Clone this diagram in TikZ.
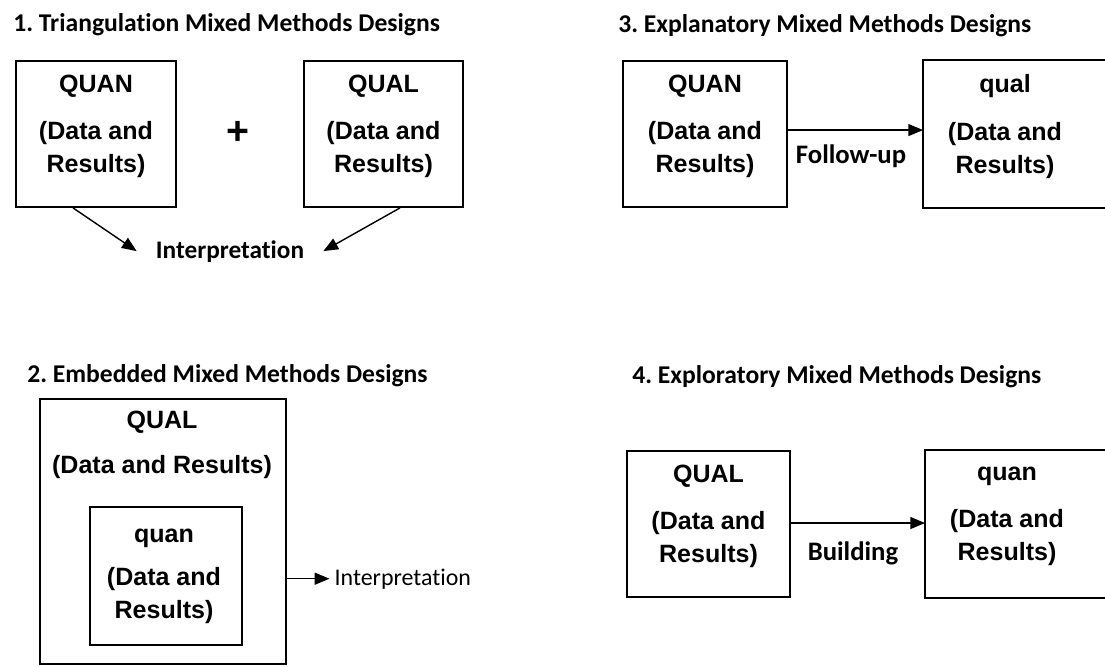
\documentclass[tikz,border=0pt]{standalone}
\usepackage{fontspec}
\setmainfont{Carlito}[Ligatures=NoCommon]
\newfontfamily\boxfont{Liberation Sans}
\usetikzlibrary{arrows.meta}
\frenchspacing
\tikzset{
  design box/.style={
    draw,
    line width=1.3pt,
    inner sep=0pt,
    minimum width=#1,
  },
  box text/.style={
    align=center,
    font=\boxfont\bfseries\fontsize{17.8}{23.5}\selectfont,
  },
  title/.style={
    anchor=base west,
    inner sep=0pt,
    font=\bfseries\fontsize{18.2}{21}\selectfont,
  },
  step label/.style={
    anchor=base,
    font=\bfseries\fontsize{19}{22}\selectfont,
  },
  link/.style={
    -{Triangle[length=10.5pt,width=8.5pt]},
    line width=1pt,
  },
}

\begin{document}
\begin{tikzpicture}[x=0.025cm, y=-0.025cm]
  \useasboundingbox (0,0) rectangle (1105,666);
  \coordinate (edge) at (1105,0);

  % 1. triangulation
  \node[title] (t1) at (13,31) {1. Triangulation Mixed Methods Designs};
  \node[design box=4cm, minimum height=3.65cm] (quanA) at (96,134) {};
  \node[box text] at (96,126.5) {QUAN\\[10pt](Data and\\Results)};
  \node[design box=3.975cm, minimum height=3.65cm] (qualA) at (383.5,134) {};
  \node[box text] at (383.5,126.5) {QUAL\\[10pt](Data and\\Results)};
  \node[font=\boxfont\bfseries\fontsize{28}{30}\selectfont] (plus) at (238,133) {+};
  \node[step label, inner xsep=13.5pt, font=\bfseries\fontsize{18}{21}\selectfont]
    (interpA) at (230,258) {Interpretation};
  \draw[link] ([xshift=-16.3pt]quanA.south) -- (interpA.west);
  \draw[link] ([xshift=11.7pt]qualA.south) -- (interpA.east);

  % 2. embedded
  \node[title] (t2) at (27,382) {2. Embedded Mixed Methods Designs};
  \node[design box=6.15cm, minimum height=6.625cm] (qualE) at (163,531.5) {};
  \node[box text] at (162,445) {QUAL\\[8.5pt](Data and Results)};
  \node[design box=3.8cm, minimum height=3.45cm] (quanE) at (166,576) {};
  \node[box text] at (164,576) {quan\\[7pt](Data and\\Results)};
  \node[anchor=base west, inner xsep=3.5pt, font=\fontsize{17}{20}\selectfont]
    (interpE) at (329.5,585) {Interpretation};
  \draw[link] (interpE.west -| qualE.east) -- (interpE.west);

  % 3. explanatory
  \node[title] (t3) at (618,32) {3. Explanatory Mixed Methods Designs};
  \node[design box=4.1cm, minimum height=3.65cm] (quanX) at (705,134) {};
  \node[box text] at (705,126.5) {QUAN\\[10pt](Data and\\Results)};
  \node[design box=4.05cm, minimum height=3.65cm, draw=none] (qualX) at (1005,134) {};
  \draw[line width=1.3pt] (qualX.north west -| edge) -- (qualX.north west)
    -- (qualX.south west) -- (qualX.south west -| edge);
  \node[box text] at (1005,126.5) {qual\\[10pt](Data and\\Results)};
  \draw[link] ([yshift=2.8pt]quanX.east) -- ([yshift=2.8pt]qualX.west);
  \node[step label] (follow) at (851,163) {Follow-up};

  % 4. exploratory
  \node[title] (t4) at (632,383) {4. Exploratory Mixed Methods Designs};
  \node[design box=4.075cm, minimum height=3.65cm] (qualP) at (708.5,524) {};
  \node[box text] at (708.5,516.5) {QUAL\\[10pt](Data and\\Results)};
  \node[design box=4.05cm, minimum height=3.65cm, draw=none] (quanP) at (1007,524) {};
  \draw[line width=1.3pt] (quanP.north west -| edge) -- (quanP.north west)
    -- (quanP.south west) -- (quanP.south west -| edge);
  \node[box text] at (1007,516.5) {quan\\[10pt](Data and\\Results)};
  \draw[link] ([yshift=0.7pt]qualP.east) -- ([yshift=0.7pt]quanP.west);
  \node[step label] (build) at (853,560) {Building};
\end{tikzpicture}
\end{document}
